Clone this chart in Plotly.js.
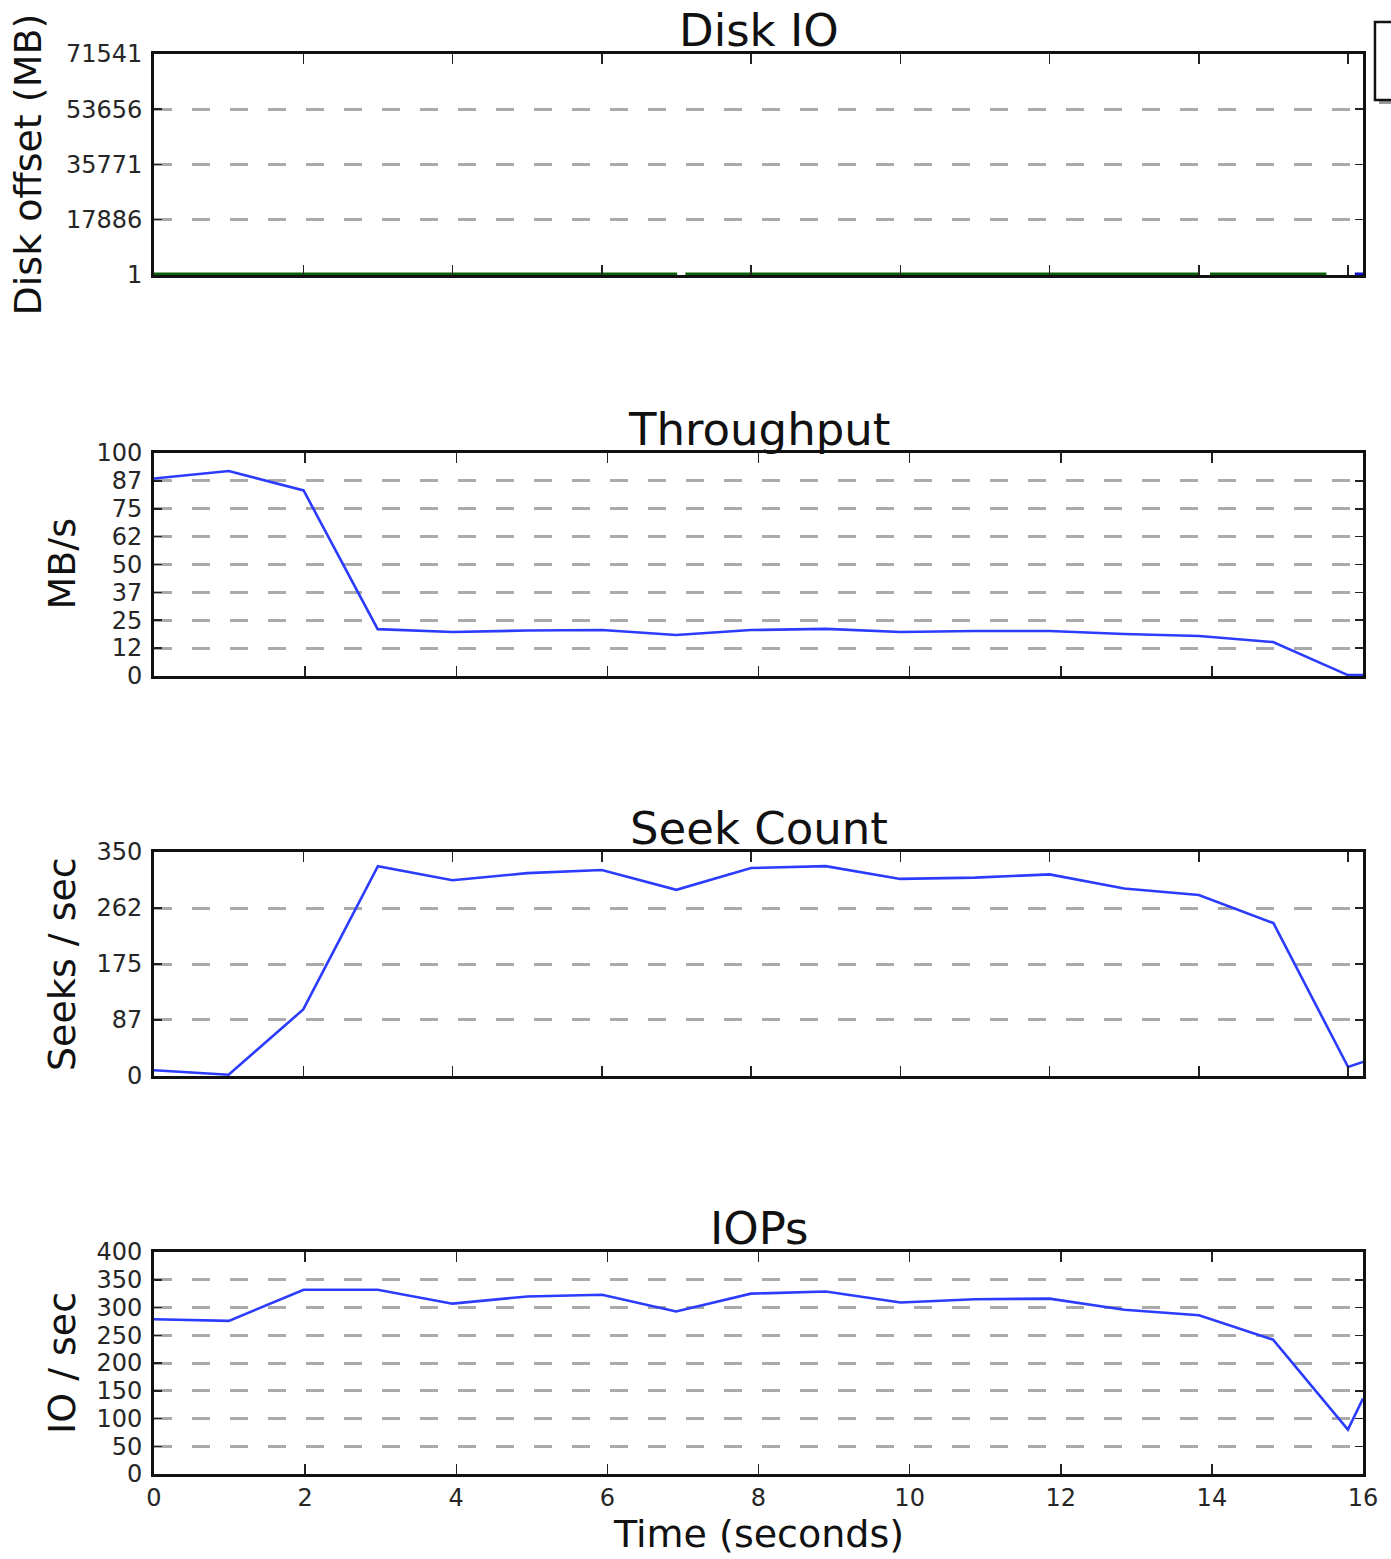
<!DOCTYPE html>
<html>
<head>
<meta charset="utf-8">
<script src="https://cdn.plot.ly/plotly-3.0.1.min.js"></script>
<style>html,body{margin:0;padding:0;background:#fff;}#chart{width:1391px;height:1559px;}</style>
</head>
<body>
<div id="chart"></div>
<script>
// ---- data ----
// time positions (seconds) used by Disk IO and Seek Count panels
var timeA = [0, 1, 2, 3, 4, 5, 6, 7, 8, 9, 10, 11, 12, 13, 14, 15, 16, 16.2];
// time positions used by Throughput and IOPs panels
var timeB = [0, 0.99, 1.98, 2.96, 3.95, 4.94, 5.93, 6.91, 7.90, 8.89, 9.88, 10.86, 11.85, 12.84, 13.83, 14.81, 15.80, 16.0];

var throughputMBs = [88.6, 91.9, 83.2, 21.0, 19.7, 20.4, 20.6, 18.4, 20.6, 21.1, 19.7, 20.2, 20.2, 18.8, 17.9, 15.2, 0.4, 0.4];
var seeksPerSec   = [9, 2, 104, 328, 306, 317, 322, 291, 325, 328, 308, 310, 315, 293, 283, 239, 14, 22];
var iosPerSec     = [279, 276, 332, 332, 307, 320, 323, 293, 325, 329, 309, 315, 316, 296, 286, 242, 80, 136];

// Disk IO scatter (offsets in MB)
var writeTime   = [0, 7.01, null, 7.12, 14.01, null, 14.15, 15.71];
var writeOffset = [150, 150, null, 150, 150, null, 150, 150];
var readTime    = [16.09, 16.2];
var readOffset  = [150, 150];

// tick labels
var diskTickVals = [1, 17886, 35771, 53656, 71541];
var diskTickText = ["1", "17886", "35771", "53656", "71541"];
var tputTickVals = [0, 12.5, 25, 37.5, 50, 62.5, 75, 87.5, 100];
var tputTickText = ["0", "12", "25", "37", "50", "62", "75", "87", "100"];
var seekTickVals = [0, 87.5, 175, 262.5, 350];
var seekTickText = ["0", "87", "175", "262", "350"];
var iopsTickVals = [0, 50, 100, 150, 200, 250, 300, 350, 400];
var iopsTickText = ["0", "50", "100", "150", "200", "250", "300", "350", "400"];
var timeTickVals = [0, 2, 4, 6, 8, 10, 12, 14, 16];
var timeTickText = ["0", "2", "4", "6", "8", "10", "12", "14", "16"];

var panelTitles = ["Disk IO", "Throughput", "Seek Count", "IOPs"];
var yTitles = ["Disk offset (MB)", "MB/s", "Seeks / sec", "IO / sec"];
var xTitle = "Time (seconds)";

// ---- styling ----
var FONT = "DejaVu Sans, sans-serif";
var BLUE = "#2b3cff";
var GREEN = "#0a5f0a";

var traces = [
  {x: writeTime, y: writeOffset, xaxis: "x", yaxis: "y", mode: "lines", name: "Writes",
   line: {color: GREEN, width: 4}, connectgaps: false},
  {x: readTime, y: readOffset, xaxis: "x", yaxis: "y", mode: "lines", name: "Reads",
   line: {color: "#1010cc", width: 4}},
  {x: timeB, y: throughputMBs, xaxis: "x2", yaxis: "y2", mode: "lines", line: {color: BLUE, width: 2.6}},
  {x: timeA, y: seeksPerSec, xaxis: "x3", yaxis: "y3", mode: "lines", line: {color: BLUE, width: 2.6}},
  {x: timeB, y: iosPerSec, xaxis: "x4", yaxis: "y4", mode: "lines", line: {color: BLUE, width: 2.6}}
];

function xax(anchor, range, labels) {
  return {
    anchor: anchor, domain: [0, 1], range: range, showgrid: false, zeroline: false,
    showline: true, linecolor: "#111", linewidth: 2.8, mirror: "ticks",
    ticks: "inside", ticklen: 10, tickwidth: 1.5, tickcolor: "#222",
    tickmode: "array", tickvals: timeTickVals, ticktext: timeTickText,
    showticklabels: labels, tickfont: {family: FONT, size: 24, color: "#262626"},
    fixedrange: true
  };
}
function yax(anchor, domain, range, vals, text) {
  return {
    anchor: anchor, domain: domain, range: range, zeroline: false,
    showline: true, linecolor: "#111", linewidth: 2.8, mirror: "ticks",
    ticks: "inside", ticklen: 8, tickwidth: 1.5, tickcolor: "#222",
    tickmode: "array", tickvals: vals, ticktext: text,
    tickfont: {family: FONT, size: 24, color: "#262626"}, ticklabelstandoff: 4,
    showgrid: true, gridcolor: "#aaaaaa", gridwidth: 3, griddash: "18px,20px",
    fixedrange: true
  };
}

var domains = [[0.8444, 1.0], [0.5620, 0.7190], [0.2803, 0.4380], [0.0, 0.1563]];

var annotations = [];
for (var i = 0; i < 4; i++) {
  annotations.push({
    text: panelTitles[i], xref: "paper", yref: "paper", x: 0.5, y: domains[i][1],
    xanchor: "center", yanchor: "bottom", showarrow: false, yshift: -5,
    font: {family: FONT, size: 45, color: "#111"}
  });
  annotations.push({
    text: yTitles[i], xref: "paper", yref: "paper", x: 0, y: (domains[i][0] + domains[i][1]) / 2,
    xanchor: "center", yanchor: "middle", showarrow: false, textangle: -90,
    xshift: (i === 0 ? -126 : -92),
    font: {family: FONT, size: 38, color: "#111"}
  });
}
annotations.push({
  text: xTitle, xref: "paper", yref: "paper", x: 0.5, y: 0, xanchor: "center", yanchor: "top",
  yshift: -36, showarrow: false, font: {family: FONT, size: 38, color: "#111"}
});

// legend box, mostly outside the page on the right (as in the reference)
var shapes = [
  {type: "rect", xref: "paper", yref: "paper", x0: 1.0132, x1: 1.06, y0: 0.9648, y1: 0.9648 + 0.0032,
   fillcolor: "#9a9a9a", line: {width: 0}, layer: "above"},
  {type: "rect", xref: "paper", yref: "paper", x0: 1.0099, x1: 1.06, y0: 0.96761, y1: 1.02254,
   fillcolor: "#ffffff", line: {color: "#111", width: 2.5}, layer: "above"}
];

var layout = {
  width: 1391, height: 1559,
  margin: {l: 154, r: 28, t: 54, b: 85, autoexpand: false},
  paper_bgcolor: "#fff", plot_bgcolor: "#fff",
  font: {family: FONT, color: "#111"},
  showlegend: false,
  xaxis: xax("y", [0, 16.2], false),
  xaxis2: xax("y2", [0, 16], false),
  xaxis3: xax("y3", [0, 16.2], false),
  xaxis4: xax("y4", [0, 16], true),
  yaxis: yax("x", domains[0], [1, 71541], diskTickVals, diskTickText),
  yaxis2: yax("x2", domains[1], [0, 100], tputTickVals, tputTickText),
  yaxis3: yax("x3", domains[2], [0, 350], seekTickVals, seekTickText),
  yaxis4: yax("x4", domains[3], [0, 400], iopsTickVals, iopsTickText),
  annotations: annotations,
  shapes: shapes
};

Plotly.newPlot("chart", traces, layout, {displayModeBar: false, staticPlot: true});
</script>
</body>
</html>
